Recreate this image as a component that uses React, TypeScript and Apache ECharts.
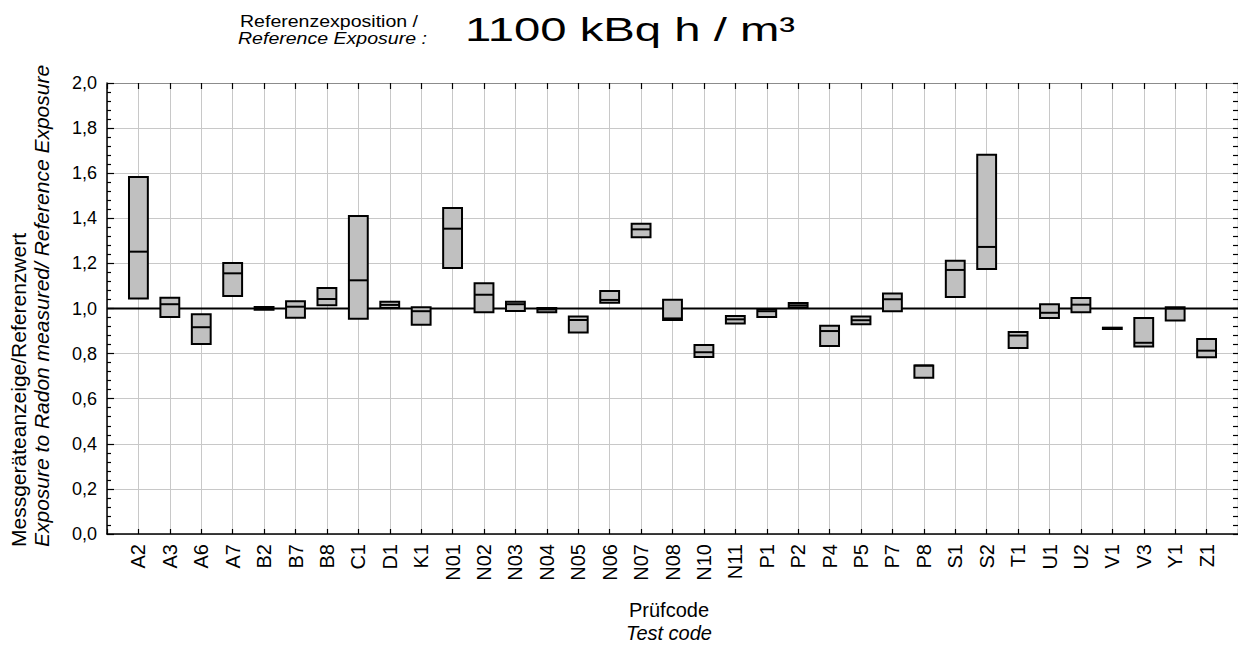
import React, { useEffect, useRef } from "react";
import * as echarts from "echarts";

const CATEGORIES = ["A2","A3","A6","A7","B2","B7","B8","C1","D1","K1","N01","N02","N03","N04","N05","N06","N07","N08","N10","N11","P1","P2","P4","P5","P7","P8","S1","S2","T1","U1","U2","V1","V3","Y1","Z1"];
const LOWER = [1.044,0.962,0.843,1.055,0.994,0.959,1.014,0.955,1.002,0.928,1.180,0.983,0.989,0.983,0.894,1.026,1.316,0.949,0.785,0.933,0.962,1.004,0.834,0.930,0.988,0.693,1.051,1.175,0.825,0.958,0.983,0.909,0.831,0.947,0.784];
const MEDIAN = [1.252,1.019,0.917,1.156,1.000,1.008,1.042,1.125,1.016,0.988,1.354,1.061,1.019,0.996,0.949,1.038,1.351,0.956,0.806,0.952,0.988,1.014,0.900,0.948,1.041,0.747,1.171,1.273,0.880,0.981,1.017,0.912,0.848,0.999,0.813];
const UPPER = [1.583,1.048,0.974,1.202,1.007,1.032,1.091,1.410,1.030,1.005,1.446,1.112,1.030,1.002,0.964,1.078,1.376,1.039,0.838,0.967,0.997,1.024,0.924,0.964,1.066,0.747,1.212,1.682,0.896,1.019,1.047,0.915,0.958,1.005,0.865];
const REFERENCE_VALUE = 1.0;
const Y_MIN = 0;
const Y_MAX = 2;
const Y_STEP = 0.2;
const X_MIN = -1;
const X_MAX = CATEGORIES.length;

const TITLE_SMALL_1 = "Referenzexposition /";
const TITLE_SMALL_2 = "Reference Exposure :";
const TITLE_BIG = "1100 kBq h / m³";
const Y_NAME_1 = "Messgeräteanzeige/Referenzwert";
const Y_NAME_2 = "Exposure to Radon measured/ Reference Exposure";
const X_NAME_1 = "Prüfcode";
const X_NAME_2 = "Test code";

const FONT = "'Liberation Sans', Arial, sans-serif";

export default function App() {
  const ref = useRef<HTMLDivElement>(null);
  useEffect(() => {
    if (!ref.current) return;
    const chart = echarts.init(ref.current, null, { renderer: "svg" });
    const boxData = CATEGORIES.map((_, i) => [i, LOWER[i], MEDIAN[i], UPPER[i]]);
    const gridColor = "#c8c8c8";
    const option: any = {
      animation: false,
      backgroundColor: "#ffffff",
      grid: { left: 107, right: 0, top: 83, bottom: 112, containLabel: false },
      xAxis: [
        {
          type: "value",
          position: "bottom",
          min: X_MIN,
          max: X_MAX,
          interval: 1,
          axisLine: { show: true, onZero: false, lineStyle: { color: "#000", width: 1.5 } },
          axisTick: { show: true, inside: true, length: 5, lineStyle: { color: "#000", width: 1.2 } },
          axisLabel: {
            show: true,
            rotate: 90,
            margin: 10,
            fontSize: 20,
            fontFamily: FONT,
            color: "#000",
            formatter: (v: number) => (Number.isInteger(v) && CATEGORIES[v] !== undefined ? CATEGORIES[v] : ""),
          },
          splitLine: { show: true, lineStyle: { color: gridColor, width: 1 } },
        },
        {
          type: "value",
          position: "top",
          min: X_MIN,
          max: X_MAX,
          interval: 1,
          axisLine: { show: true, onZero: false, lineStyle: { color: "#8c8c8c", width: 1.2 } },
          axisTick: { show: true, inside: true, length: 6, lineStyle: { color: "#000", width: 1.2 } },
          axisLabel: { show: false },
          splitLine: { show: false },
        },
      ],
      yAxis: [
        {
          type: "value",
          position: "left",
          min: Y_MIN,
          max: Y_MAX,
          interval: Y_STEP,
          axisLine: { show: true, onZero: false, lineStyle: { color: "#000", width: 1.5 } },
          axisTick: { show: true, inside: true, length: 7, lineStyle: { color: "#000", width: 1.2 } },
          minorTick: { show: true, splitNumber: 5, length: 4, lineStyle: { color: "#000", width: 1.2 } },
          axisLabel: {
            margin: 10,
            fontSize: 18,
            fontFamily: FONT,
            color: "#000",
            formatter: (v: number) => v.toFixed(1).replace(".", ","),
          },
          splitLine: { show: true, lineStyle: { color: gridColor, width: 1 } },
        },
        {
          type: "value",
          position: "right",
          min: Y_MIN,
          max: Y_MAX,
          interval: Y_STEP,
          axisLine: { show: true, onZero: false, lineStyle: { color: "#000", width: 1.2 } },
          axisTick: { show: true, inside: true, length: 5, lineStyle: { color: "#000", width: 1.2 } },
          minorTick: { show: true, splitNumber: 5, length: 5, lineStyle: { color: "#000", width: 1.2 } },
          axisLabel: { show: false },
          splitLine: { show: false },
        },
      ],
      series: [
        {
          type: "line",
          z: 1,
          xAxisIndex: 0,
          yAxisIndex: 0,
          data: [[X_MIN, REFERENCE_VALUE], [X_MAX, REFERENCE_VALUE]],
          symbol: "none",
          lineStyle: { color: "#000", width: 1.8 },
          silent: true,
        },
        {
          type: "custom",
          z: 3,
          xAxisIndex: 0,
          yAxisIndex: 0,
          data: boxData,
          encode: { x: 0, y: [1, 2, 3] },
          renderItem: (params: any, api: any) => {
            const x = api.value(0);
            const low = api.coord([x, api.value(1)]);
            const med = api.coord([x, api.value(2)]);
            const high = api.coord([x, api.value(3)]);
            const w = api.size([0.6, 0])[0];
            const left = low[0] - w / 2;
            return {
              type: "group",
              children: [
                {
                  type: "rect",
                  shape: { x: left, y: high[1], width: w, height: Math.max(low[1] - high[1], 1) },
                  style: { fill: "#c0c0c0", stroke: "#000", lineWidth: 2 },
                },
                {
                  type: "line",
                  shape: { x1: left, y1: med[1], x2: left + w, y2: med[1] },
                  style: { stroke: "#000", lineWidth: 2 },
                },
              ],
            };
          },
        },
      ],
      graphic: [
        {
          type: "text",
          x: 240,
          y: 21,
          scaleX: 1.15,
          style: { text: TITLE_SMALL_1, fontSize: 17, fontFamily: FONT, fill: "#000", align: "left", verticalAlign: "middle" },
        },
        {
          type: "text",
          x: 238,
          y: 38,
          scaleX: 1.15,
          style: { text: TITLE_SMALL_2, fontSize: 17, fontStyle: "italic", fontFamily: FONT, fill: "#000", align: "left", verticalAlign: "middle" },
        },
        {
          type: "text",
          x: 465,
          y: 29,
          scaleX: 1.39,
          style: { text: TITLE_BIG, fontSize: 34, fontFamily: FONT, fill: "#000", align: "left", verticalAlign: "middle" },
        },
        {
          type: "text",
          x: 18,
          y: 547,
          rotation: Math.PI / 2,
          style: { text: Y_NAME_1, fontSize: 21, fontFamily: FONT, fill: "#000", align: "left", verticalAlign: "middle" },
        },
        {
          type: "text",
          x: 41,
          y: 547,
          rotation: Math.PI / 2,
          style: { text: Y_NAME_2, fontSize: 21, fontStyle: "italic", fontFamily: FONT, fill: "#000", align: "left", verticalAlign: "middle" },
        },
        {
          type: "text",
          x: 669,
          y: 610,
          style: { text: X_NAME_1, fontSize: 20, fontFamily: FONT, fill: "#000", align: "center", verticalAlign: "middle" },
        },
        {
          type: "text",
          x: 669,
          y: 633,
          style: { text: X_NAME_2, fontSize: 20, fontStyle: "italic", fontFamily: FONT, fill: "#000", align: "center", verticalAlign: "middle" },
        },
      ],
    };
    chart.setOption(option);
    return () => chart.dispose();
  }, []);
  return (
    <div
      ref={ref}
      style={{ position: "fixed", left: 0, top: 0, width: 1238, height: 646, background: "#fff" }}
    />
  );
}
